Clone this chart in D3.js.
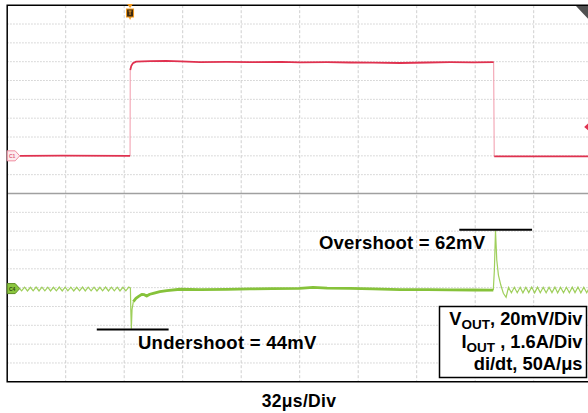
<!DOCTYPE html>
<html lang="en">
<head>
  <meta charset="UTF-8" />
  <title>Load transient</title>
  <script src="https://d3js.org/d3.v7.min.js"></script>
  <style>
    body { margin: 0; background: #fff; }
    svg { display: block; font-family: "Liberation Sans", Arial, sans-serif; }
    .grid line { stroke: #cfcfcf; stroke-width: 1; }
    .lbl { font-weight: bold; fill: #000; }
  </style>
</head>
<body>
  <svg width="588" height="413"></svg>

  <script>
    // scope settings
    const timeDiv = 32;        // us per division
    const iScale = 1.6;        // A per division (IOUT, red)
    const vScale = 20;         // mV per division (VOUT, green)
    const iOffset = 2;         // divisions above centre
    const vOffset = -5.05;

    // IOUT, A vs us
    const iLow1 = [[6.8, 0], [30, 0.01], [67.2, 0]];
    const iHigh = [[67.3, 7.3], [67.9, 7.65], [68.8, 7.88], [70.5, 8.0], [74, 8.03], [78.1, 8.05],
      [86.9, 8.07], [95, 8.03], [105.5, 7.97], [120, 7.98], [132.8, 7.96], [150, 7.99],
      [160.2, 7.95], [175, 7.96], [187.5, 7.93], [200, 7.92], [214.9, 7.89], [230, 7.93],
      [242.2, 7.96], [255, 7.95], [266.1, 7.96]];
    const iLow2 = [[266.4, -0.05], [290, -0.04], [320, -0.05]];

    // VOUT deviation, mV vs us
    const vBefore = [[6.8, 0], [7.9, -2.4], [9.5, 1.5], [11.1, -2.5], [12.7, 1.4], [14.2, -2.4],
      [15.8, 1.6], [17.4, -2.5], [19.0, 1.5], [20.6, -2.3], [22.2, 1.5], [23.7, -2.5],
      [25.3, 1.4], [26.9, -2.4], [28.5, 1.6], [30.1, -2.5], [31.7, 1.5], [33.2, -2.4],
      [34.8, 1.5], [36.4, -2.5], [38.0, 1.4], [39.6, -2.4], [41.2, 1.6], [42.7, -2.5],
      [44.3, 1.5], [45.9, -2.3], [47.5, 1.5], [49.1, -2.5], [50.7, 1.4], [52.2, -2.4],
      [53.8, 1.6], [55.4, -2.5], [57.0, 1.5], [58.6, -2.4], [60.2, 1.5], [61.7, -2.5],
      [63.3, 1.4], [64.9, -2.4], [66.5, 1.6], [67.4, 0.5], [67.6, -22], [67.9, -42.6],
      [68.3, -22], [69.0, -13.9]];
    const vSettle = [[69.0, -13.9], [70.4, -10.5], [71.7, -8.6], [73.6, -6.1], [75.0, -6.5],
      [76.3, -7.9], [78.0, -6.0], [79.9, -5.0], [83.5, -3.3], [87.3, -2.2], [94.5, -0.7],
      [105.5, -1.2], [120, -0.8], [132.8, -0.4], [145, 0.0], [160, 0.3], [167.3, 1.2],
      [175, 0.6], [187.5, 0.3], [200, -0.4], [215, -1.0], [230, -1.1], [242, -1.3],
      [255, -1.5], [265.9, -1.6]];
    const vAfter = [[265.9, -1.6], [266.5, 20], [267.1, 61.7], [267.8, 30.4], [268.7, 14.4],
      [270.0, 3.8], [271.4, -5.0], [272.9, -9.2], [274.2, 1.2], [275.8, -4.5], [277.4, 1.5],
      [279.0, -4.4], [280.6, 1.4], [282.1, -4.5], [283.7, 1.5], [285.3, -4.3], [286.9, 1.6],
      [288.5, -4.5], [290.1, 1.5], [291.6, -4.4], [293.2, 1.4], [294.8, -4.5], [296.4, 1.5],
      [298.0, -4.3], [299.6, 1.6], [301.1, -4.5], [302.7, 1.5], [304.3, -4.4], [305.9, 1.4],
      [307.5, -4.5], [309.1, 1.5], [310.6, -4.3], [312.2, 1.6], [313.8, -4.5], [315.4, 1.5],
      [317.0, -4.4], [318.6, 1.4], [320.0, -2]];

    const undershoot = { t0: 49, t1: 88.3, mv: -43.5, text: "Undershoot = 44mV" };
    const overshoot = { t0: 247.3, t1: 287.1, mv: 62.5, text: "Overshoot = 62mV" };
    const trigTime = 67.2;
    const trigLevel = 2.46;  // A

    const svg = d3.select("svg");

    const x = d3.scaleLinear().domain([0, 10 * timeDiv]).range([7.2, 592.2]);
    const yDiv = d3.scaleLinear().domain([-10, 10]).range([381.8, 5.2]);
    const iY = a => yDiv(iOffset + a / iScale);
    const vY = mv => yDiv(vOffset + mv / vScale);

    // grid
    const grid = svg.append("g").attr("class", "grid");
    grid.selectAll("line.h")
      .data(d3.range(-9, 10).filter(d => d !== 0))
      .join("line")
        .attr("x1", x(0)).attr("x2", x(320))
        .attr("y1", d => yDiv(d)).attr("y2", d => yDiv(d))
        .attr("stroke-dasharray", "1.5,1.5");
    grid.selectAll("line.v")
      .data(d3.range(1, 10))
      .join("line")
        .attr("x1", d => x(d * timeDiv)).attr("x2", d => x(d * timeDiv))
        .attr("y1", yDiv(10)).attr("y2", yDiv(-10))
        .attr("stroke-dasharray", "3,2");

    svg.append("line")
      .attr("x1", x(0)).attr("x2", x(320))
      .attr("y1", yDiv(0)).attr("y2", yDiv(0))
      .attr("stroke", "#a0a0a0").attr("stroke-width", 1.5);

    // frame
    svg.append("path")
      .attr("d", `M${x(320)},${yDiv(10)}H${x(0)}V${yDiv(-10)}H${x(320)}`)
      .attr("fill", "none").attr("stroke", "#000").attr("stroke-width", 1.5);

    const line = yf => d3.line().x(d => x(d[0])).y(d => yf(d[1]));

    // IOUT trace
    const red = "#e0314f";
    svg.append("path").datum([iLow1[iLow1.length - 1], iHigh[0]])
      .attr("d", line(iY)).attr("fill", "none").attr("stroke", "#f29aab").attr("stroke-width", 1);
    svg.append("path").datum([iHigh[iHigh.length - 1], iLow2[0]])
      .attr("d", line(iY)).attr("fill", "none").attr("stroke", "#f29aab").attr("stroke-width", 1);
    [iLow1, iHigh, iLow2].forEach(seg => {
      svg.append("path").datum(seg)
        .attr("d", line(iY)).attr("fill", "none").attr("stroke", red).attr("stroke-width", 1.8);
    });

    // VOUT trace
    svg.append("path").datum(vBefore)
      .attr("d", line(vY)).attr("fill", "none").attr("stroke", "#9fcf5c").attr("stroke-width", 1.2);
    svg.append("path").datum(vAfter)
      .attr("d", line(vY)).attr("fill", "none").attr("stroke", "#9fcf5c").attr("stroke-width", 1.2);
    svg.append("path").datum(vSettle)
      .attr("d", line(vY)).attr("fill", "none").attr("stroke", "#86c23a").attr("stroke-width", 2.8)
      .attr("stroke-linejoin", "round");

    // channel markers
    function chMarker(yv, fill, stroke, label, tc) {
      const g = svg.append("g").attr("transform", `translate(${x(0)},${yv})`);
      g.append("path").attr("d", "M0,-5H8L12.5,0L8,5H0Z")
        .attr("fill", fill).attr("stroke", stroke).attr("stroke-width", 1);
      g.append("text").attr("x", 5).attr("y", 2).attr("text-anchor", "middle")
        .attr("font-size", 5).attr("font-weight", "bold").attr("fill", tc).text(label);
    }
    chMarker(iY(0), "#fdecef", "#f08ca0", "C1", "#e0607a");
    chMarker(vY(0), "#8cc63f", "#5f8f25", "C4", "#2f4a10");

    // trigger marker
    const tx = x(trigTime);
    svg.append("path").attr("d", `M${tx - 3},4H${tx + 3}L${tx},8Z`).attr("fill", "#f39a1e");
    svg.append("rect").attr("x", tx - 3.5).attr("y", 9).attr("width", 7).attr("height", 8)
      .attr("fill", "#3b2a12").attr("stroke", "#f39a1e").attr("stroke-width", 1);
    svg.append("path").attr("d", `M${tx - 1.5},11H${tx + 1.5}M${tx},11V15`)
      .attr("stroke", "#f39a1e").attr("stroke-width", 1);
    svg.append("path").attr("d", `M${tx - 1.5},17L${tx},20L${tx + 1.5},17Z`).attr("fill", "#f39a1e");

    // top-right offset marker, trigger level marker
    svg.append("path").attr("d", "M576,6H590V21Z").attr("fill", "#505050");
    svg.append("path").attr("d", `M${x(320) - 8},${iY(trigLevel)}l4,-3.5l4,0l0,7l-4,0Z`).attr("fill", red);

    // annotations
    [undershoot, overshoot].forEach(a => {
      svg.append("line")
        .attr("x1", x(a.t0)).attr("x2", x(a.t1))
        .attr("y1", vY(a.mv)).attr("y2", vY(a.mv))
        .attr("stroke", "#000").attr("stroke-width", 2);
    });
    svg.append("text").attr("class", "lbl").attr("x", 138).attr("y", 349)
      .attr("font-size", 18.5).attr("letter-spacing", 0.25).text(undershoot.text);
    svg.append("text").attr("class", "lbl").attr("x", 319).attr("y", 249)
      .attr("font-size", 18.5).attr("letter-spacing", 0.2).text(overshoot.text);

    // settings box
    svg.append("rect").attr("x", 439.5).attr("y", 306.5).attr("width", 147).attr("height", 71)
      .attr("fill", "#fff").attr("stroke", "#000").attr("stroke-width", 1.5);
    const rows = [["V", "OUT", ", 20mV/Div", 325], ["I", "OUT", " , 1.6A/Div", 347.5], ["di/dt, 50A/\u03bcs", "", "", 370]];
    rows.forEach(([a, sub, b, yy]) => {
      const t = svg.append("text").attr("class", "lbl").attr("x", 582.5).attr("y", yy)
        .attr("text-anchor", "end").attr("font-size", 18.3);
      t.append("tspan").text(a);
      if (sub) {
        t.append("tspan").attr("font-size", 13.5).attr("dy", 4).text(sub);
        t.append("tspan").attr("dy", -4).text(b);
      }
    });

    svg.append("text").attr("class", "lbl").attr("x", 299).attr("y", 406.5)
      .attr("text-anchor", "middle").attr("font-size", 17.5).attr("letter-spacing", 0.3)
      .text(timeDiv + "\u03bcs/Div");
  </script>
</body>
</html>
